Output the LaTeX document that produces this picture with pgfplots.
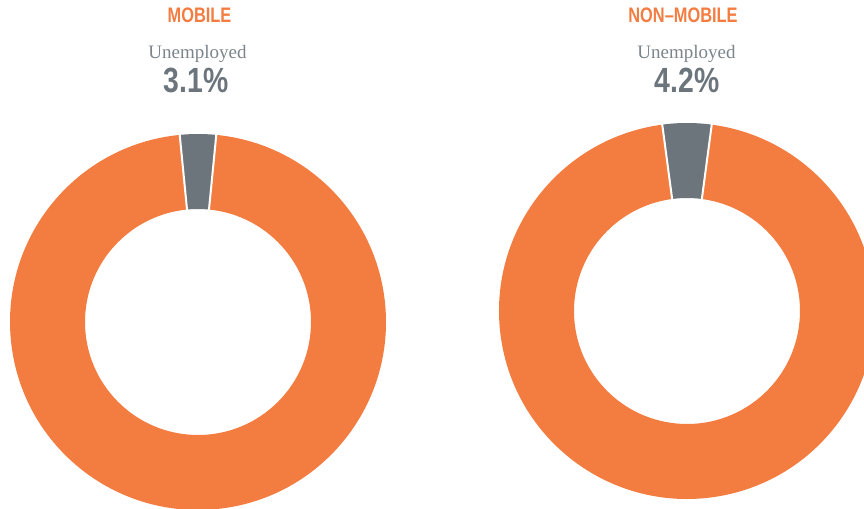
\documentclass[border=0pt]{standalone}
\usepackage{pgfplots}
\pgfplotsset{compat=1.18}
\usepackage{pgfplotstable}
\usepackage{graphicx}
\usepackage{fontspec}
\setmainfont{Liberation Serif}
\newfontfamily\hfont{Liberation Sans}
\usetikzlibrary{calc}

\definecolor{donutorange}{HTML}{F37C41}
\definecolor{donutgray}{HTML}{6B757B}
\definecolor{labelgray}{HTML}{7B858B}

% share of unemployed / employed, in percent
\pgfplotstableread{
group unemployed employed
Mobile 3.1 96.9
NonMobile 4.2 95.8
}\donutdata

\pgfplotstablegetelem{0}{unemployed}\of\donutdata
\pgfmathsetmacro{\aoneL}{90-\pgfplotsretval*1.8}
\pgfmathsetmacro{\atwoL}{90+\pgfplotsretval*1.8}
\pgfplotstablegetelem{1}{unemployed}\of\donutdata
\pgfmathsetmacro{\aoneR}{90-\pgfplotsretval*1.8}
\pgfmathsetmacro{\atwoR}{90+\pgfplotsretval*1.8}

% ring radii (1 px = 0.5pt)
\def\rout{94pt}
\def\rin{56.5pt}

% #1 centre x, #2 centre y, #3 start angle of gray part, #4 end angle
\newcommand{\donut}[4]{%
  \fill[donutgray] (axis cs:#1,#2) ++(#3:\rout) arc[start angle=#3, end angle=#4, radius=\rout]
    -- ($(axis cs:#1,#2)+(#4:\rin)$) arc[start angle=#4, end angle=#3, radius=\rin] -- cycle;
  \fill[donutorange] (axis cs:#1,#2) ++(#4:\rout) arc[start angle=#4, end angle=#3+360, radius=\rout]
    -- ($(axis cs:#1,#2)+(#3:\rin)$) arc[start angle=#3+360, end angle=#4, radius=\rin] -- cycle;
  \draw[white, line width=1pt] ($(axis cs:#1,#2)+(#3:55pt)$) -- ($(axis cs:#1,#2)+(#3:95.5pt)$);
  \draw[white, line width=1pt] ($(axis cs:#1,#2)+(#4:55pt)$) -- ($(axis cs:#1,#2)+(#4:95.5pt)$);
}

\newcommand{\ttl}[1]{\scalebox{0.78}[1]{\fontsize{10.5}{12}\hfont\bfseries #1}}
\newcommand{\pct}[1]{\scalebox{0.81}[1]{\fontsize{17.5}{20}\hfont\bfseries #1}}

\begin{document}
\begin{tikzpicture}
\begin{axis}[
    width=432pt, height=254.5pt,
    scale only axis,
    xmin=0, xmax=864, ymin=0, ymax=509,
    hide axis,
    clip=true,
]
\donut{198}{187}{\aoneL}{\atwoL}
\donut{687}{198}{\aoneR}{\atwoR}

\node[anchor=base, text=donutorange, inner sep=0pt] at (axis cs:199.5,486) {\ttl{MOBILE}};
\node[anchor=base, text=labelgray, inner sep=0pt] at (axis cs:197.5,450) {\fontsize{9.5}{11}\selectfont Unemployed};
\node[anchor=base, text=donutgray, inner sep=0pt] at (axis cs:196,416) {\pct{3.1\%}};

\node[anchor=base, text=donutorange, inner sep=0pt] at (axis cs:683,486) {\ttl{NON–MOBILE}};
\node[anchor=base, text=labelgray, inner sep=0pt] at (axis cs:686.5,450) {\fontsize{9.5}{11}\selectfont Unemployed};
\node[anchor=base, text=donutgray, inner sep=0pt] at (axis cs:687,416) {\pct{4.2\%}};
\end{axis}
\pgfresetboundingbox
\useasboundingbox (current axis.south west) rectangle (current axis.north east);
\end{tikzpicture}
\end{document}
